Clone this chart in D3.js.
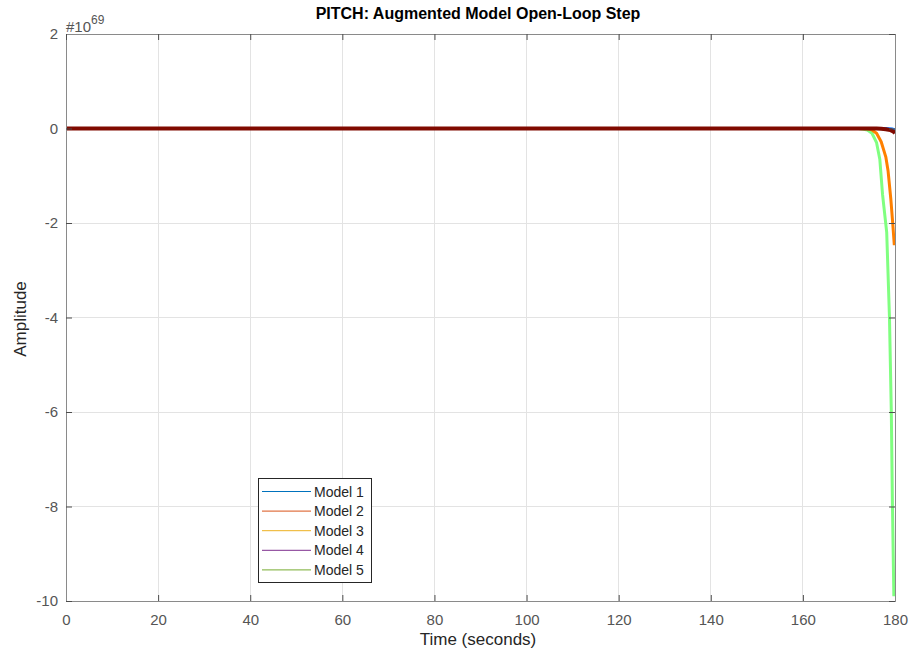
<!DOCTYPE html>
<html>
<head>
<meta charset="utf-8">
<script src="https://cdn.jsdelivr.net/npm/d3@7"></script>
<style>
  html, body { margin: 0; padding: 0; background: #fff; }
  svg { display: block; font-family: "Liberation Sans", Arial, sans-serif; }
</style>
</head>
<body>
<svg id="chart" width="911" height="654"></svg>
<script>
// Step response of the augmented pitch model (values in units of 1e69)
const xTicks = [0, 20, 40, 60, 80, 100, 120, 140, 160, 180];
const yTicks = [-10, -8, -6, -4, -2, 0, 2];
const legendNames = ["Model 1", "Model 2", "Model 3", "Model 4", "Model 5"];
const legendColors = ["#0072BD", "#D95319", "#EDB120", "#7E2F8E", "#77AC30"];

// Response traces: times (s) and amplitudes (x1e69)
const greenTime  = [0, 100, 170, 172, 173, 174, 175, 176, 176.7, 177.3, 178.2, 178.8, 179.2, 179.45, 179.75];
const greenValue = [0, 0, 0, -0.002, -0.01, -0.03, -0.1, -0.3, -0.65, -1.4, -2.2, -4.0, -6.0, -8.0, -9.9];

const orangeTime  = [0, 100, 172, 174, 175, 176, 177, 178, 178.5, 179.1, 179.5, 179.85];
const orangeValue = [0, 0, 0, -0.005, -0.03, -0.1, -0.28, -0.6, -0.9, -1.5, -2.0, -2.47];

const blueTime  = [0, 100, 178, 179, 179.5, 180];
const blueValue = [0, 0, 0, -0.005, -0.012, -0.03];

const redTime  = [0, 100, 176, 177, 178, 179, 179.6, 180];
const redValue = [0, 0, 0, -0.005, -0.015, -0.035, -0.06, -0.1];

const traces = [
  { t: greenTime,  v: greenValue,  color: "#80ff80", width: 3 },
  { t: orangeTime, v: orangeValue, color: "#ff8000", width: 3 },
  { t: blueTime,   v: blueValue,   color: "#1f80ff", width: 3 },
  { t: redTime,    v: redValue,    color: "#800a00", width: 4 }
];

const svg = d3.select("#chart");
const pLeft = 66, pRight = 895, pTop = 34, pBottom = 601;

const x = d3.scaleLinear().domain([0, 180]).range([pLeft, pRight]);
const y = d3.scaleLinear().domain([-10, 2]).range([pBottom, pTop]);

// grid
const grid = svg.append("g");
grid.selectAll("line.vx").data(xTicks).join("line")
  .attr("x1", d => x(d)).attr("x2", d => x(d))
  .attr("y1", pTop).attr("y2", pBottom)
  .attr("stroke", "#e3e3e3").attr("stroke-width", 1)
  .attr("shape-rendering", "crispEdges");
grid.selectAll("line.hy").data(yTicks).join("line")
  .attr("x1", pLeft).attr("x2", pRight)
  .attr("y1", d => y(d)).attr("y2", d => y(d))
  .attr("stroke", "#e3e3e3").attr("stroke-width", 1)
  .attr("shape-rendering", "crispEdges");

// traces, clipped to the axes
svg.append("clipPath").attr("id", "plotclip")
  .append("rect").attr("x", pLeft).attr("y", pTop)
  .attr("width", pRight - pLeft).attr("height", pBottom - pTop);

const line = d3.line().x(d => x(d[0])).y(d => y(d[1]));
const plot = svg.append("g").attr("clip-path", "url(#plotclip)");
traces.forEach(tr => {
  const pts = tr.t.map((t, i) => [t, tr.v[i]]);
  plot.append("path")
    .datum(pts)
    .attr("d", line)
    .attr("fill", "none")
    .attr("stroke", tr.color)
    .attr("stroke-width", tr.width)
    .attr("stroke-linejoin", "round");
});

// axes (ticks inward, box around plot); plain hyphen for negatives
const fmt = d => String(d);
const xAxis = d3.axisBottom(x).tickValues(xTicks).tickSize(-6).tickPadding(13.5).tickFormat(fmt);
const yAxis = d3.axisLeft(y).tickValues(yTicks).tickSize(-6).tickPadding(8).tickFormat(fmt);
const xTop = d3.axisTop(x).tickValues(xTicks).tickSize(-6).tickFormat("");
const yRight = d3.axisRight(y).tickValues(yTicks).tickSize(-6).tickFormat("");

function styleAxis(g) {
  g.select(".domain").attr("stroke", "#8a8a8a");
  g.selectAll(".tick line").attr("stroke", "#4d4d4d");
  g.selectAll(".tick text").attr("fill", "#555").attr("font-size", 15)
    .attr("font-family", "Liberation Sans, Arial, sans-serif");
}
svg.append("g").attr("transform", `translate(0,${pBottom})`).call(xAxis).call(styleAxis);
svg.append("g").attr("transform", `translate(${pLeft},0)`).call(yAxis).call(styleAxis);
svg.append("g").attr("transform", `translate(0,${pTop})`).call(xTop).call(styleAxis);
svg.append("g").attr("transform", `translate(${pRight},0)`).call(yRight).call(styleAxis);

// exponent label
const exp = svg.append("text").attr("x", pLeft).attr("y", 31.5)
  .attr("fill", "#555").attr("font-size", 15);
exp.append("tspan").text("#10");
exp.append("tspan").attr("dy", -8).attr("font-size", 12).text("69");

// title and axis labels
svg.append("text").attr("x", 478).attr("y", 19)
  .attr("text-anchor", "middle").attr("font-weight", "bold")
  .attr("font-size", 16).attr("fill", "#000")
  .text("PITCH: Augmented Model Open-Loop Step");
svg.append("text").attr("x", 478).attr("y", 645)
  .attr("text-anchor", "middle").attr("font-size", 17).attr("fill", "#262626")
  .text("Time (seconds)");
svg.append("text")
  .attr("transform", `translate(25.5,319) rotate(-90)`)
  .attr("text-anchor", "middle").attr("font-size", 17).attr("fill", "#262626")
  .text("Amplitude");

// legend
const lg = svg.append("g").attr("transform", "translate(258,478)");
lg.append("rect").attr("x", 0).attr("y", 0).attr("width", 113).attr("height", 104)
  .attr("fill", "#fff").attr("stroke", "#262626").attr("stroke-width", 1)
  .attr("shape-rendering", "crispEdges");
legendNames.forEach((name, i) => {
  const cy = 13.5 + i * 19.6;
  lg.append("line").attr("x1", 4).attr("x2", 53).attr("y1", cy).attr("y2", cy)
    .attr("stroke", legendColors[i]).attr("stroke-width", 1);
  lg.append("text").attr("x", 56).attr("y", cy + 5)
    .attr("font-size", 14).attr("fill", "#262626").text(name);
});
</script>
</body>
</html>
